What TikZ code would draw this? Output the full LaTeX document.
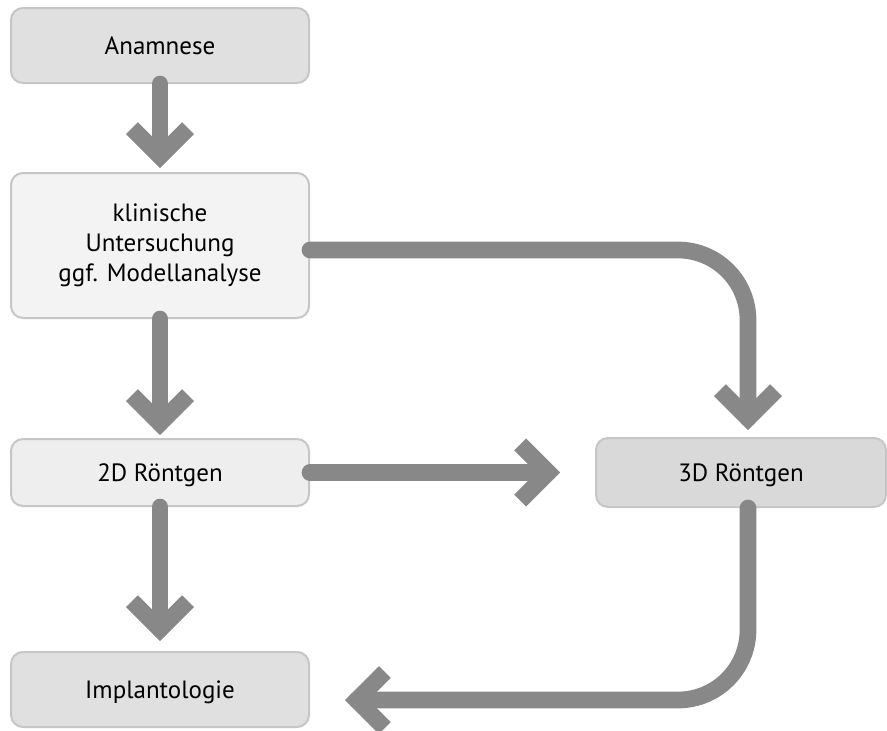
\documentclass[tikz,border=0pt]{standalone}
\usepackage{fontspec}
\setmainfont{PT Sans}
\usetikzlibrary{calc}
\definecolor{arrowgray}{HTML}{888888}
\definecolor{bordergray}{HTML}{C6C6C6}
\definecolor{filldark}{HTML}{E0E0E0}
\definecolor{filllight}{HTML}{F3F3F3}
\definecolor{fillmid}{HTML}{EEEEEE}
\definecolor{fill3d}{HTML}{D9D9D9}
\tikzset{
  box/.style={draw=bordergray, line width=2pt, rounded corners=12pt, inner sep=0pt,
    align=center, font=\fontsize{25}{30}\selectfont, text=black,
    text height=17.5pt, text depth=0pt},
  shaft/.style={draw=arrowgray, line width=16.7pt, line cap=round},
  chevron/.style={draw=arrowgray, line width=16.7pt, line cap=butt, line join=miter},
}
\begin{document}
\begin{tikzpicture}[x=1pt,y=-1pt]
\useasboundingbox (0,0) rectangle (887,731);
% boxes
\node[box, fill=filldark, minimum width=298pt, minimum height=75pt] (ana) at (160,45.5) {Anamnese};
\node[box, fill=filllight, minimum width=298pt, minimum height=145pt, text height=77.5pt, text depth=6pt] (kli) at (160,245.5) {klinische\\Untersuchung\\ggf. Modellanalyse};
\node[box, fill=fillmid, minimum width=298pt, minimum height=67pt] (r2d) at (160,472.5) {2D Röntgen};
\node[box, fill=fill3d, minimum width=290pt, minimum height=69pt] (r3d) at (741,472.5) {3D Röntgen};
\node[box, fill=filldark, minimum width=298pt, minimum height=75pt] (imp) at (160,689.5) {Implantologie};
% arrowhead vertices
\coordinate (t1) at (160,156.2);
\coordinate (t2) at (160,423.2);
\coordinate (t3) at (160,629.2);
\coordinate (t4) at (748,418.2);
\coordinate (t5) at (548.2,472.5);
\coordinate (t6) at (356.8,700);
\coordinate (s4) at ($(kli.east)+(0,4.5)$);
\coordinate (s6) at ($(r3d.south)+(7,0)$);
% Anamnese -> klinische
\draw[shaft] (ana.south) -- (t1);
\draw[chevron] ($(t1)+(-28,-28)$) -- (t1) -- ($(t1)+(28,-28)$);
% klinische -> 2D
\draw[shaft] (kli.south) -- (t2);
\draw[chevron] ($(t2)+(-28,-28)$) -- (t2) -- ($(t2)+(28,-28)$);
% 2D -> Implantologie
\draw[shaft] (r2d.south) -- (t3);
\draw[chevron] ($(t3)+(-28,-28)$) -- (t3) -- ($(t3)+(28,-28)$);
% klinische -> 3D
\draw[shaft, rounded corners=70pt] (s4) -| (t4);
\draw[chevron] ($(t4)+(-28,-28)$) -- (t4) -- ($(t4)+(28,-28)$);
% 2D -> 3D
\draw[shaft] (r2d.east) -- (t5);
\draw[chevron] ($(t5)+(-28,-28)$) -- (t5) -- ($(t5)+(-28,28)$);
% 3D -> Implantologie
\draw[shaft, rounded corners=70pt] (s6) |- (t6);
\draw[chevron] ($(t6)+(28,-28)$) -- (t6) -- ($(t6)+(28,28)$);
\end{tikzpicture}
\end{document}
